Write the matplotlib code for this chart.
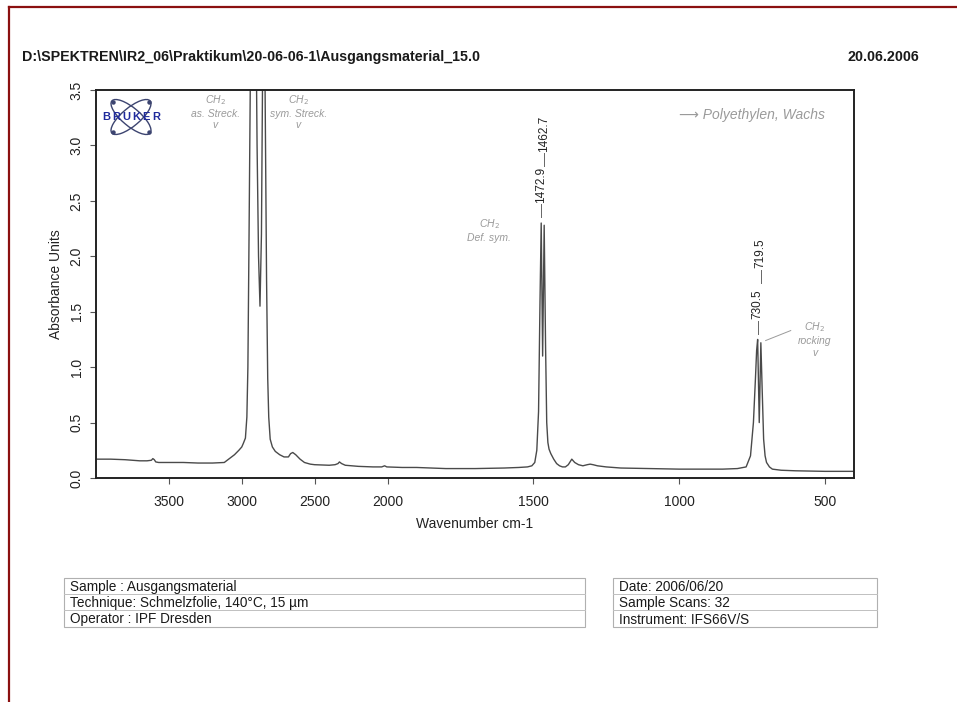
import numpy as np
import matplotlib
matplotlib.use("Agg")
import matplotlib.pyplot as plt
from matplotlib.patches import Ellipse, Rectangle
from matplotlib.lines import Line2D

plt.rcParams['font.family'] = ['Liberation Sans', 'DejaVu Sans']

# IR spectrum, read point by point (wavenumber cm-1, absorbance)
wavenumber = [4000, 3900, 3800, 3700, 3650, 3620, 3610, 3600, 3590, 3570, 3500, 3400,
              3300, 3200, 3120, 3080, 3050, 3020, 3000, 2990, 2975, 2965, 2958, 2950,
              2940, 2930, 2919, 2905, 2895, 2885, 2875, 2865, 2858, 2850, 2840, 2830,
              2822, 2815, 2805, 2790, 2770, 2740, 2710, 2680, 2665, 2650, 2630, 2600,
              2570, 2530, 2500, 2400, 2360, 2340, 2330, 2315, 2290, 2200, 2100, 2040,
              2020, 2005, 1950, 1900, 1800, 1700, 1600, 1550, 1520, 1505, 1495, 1488,
              1482, 1477, 1472.9, 1468, 1462.7, 1458, 1454, 1450, 1446, 1440, 1430, 1420,
              1410, 1400, 1390, 1380, 1368, 1358, 1345, 1330, 1315, 1305, 1295, 1280,
              1250, 1200, 1100, 1000, 900, 850, 800, 770, 755, 745, 738, 734,
              730.5, 725, 719.5, 715, 710, 705, 700, 690, 680, 650, 600, 500, 400]
absorbance = [0.17, 0.17, 0.165, 0.155, 0.155, 0.16, 0.175, 0.165, 0.145, 0.14, 0.14, 0.14,
              0.135, 0.135, 0.14, 0.18, 0.21, 0.25, 0.28, 0.31, 0.36, 0.55, 1.0, 2.2,
              3.8, 4.5, 5.0, 4.5, 3.0, 2.0, 1.55, 2.2, 3.5, 4.5, 3.5, 1.8,
              0.9, 0.55, 0.35, 0.28, 0.24, 0.21, 0.19, 0.19, 0.22, 0.23, 0.21, 0.17,
              0.14, 0.125, 0.12, 0.115, 0.12, 0.13, 0.145, 0.13, 0.115, 0.105, 0.1, 0.1,
              0.11, 0.1, 0.095, 0.095, 0.085, 0.085, 0.09, 0.095, 0.1, 0.11, 0.14, 0.25,
              0.6, 1.6, 2.30, 1.1, 2.28, 1.2, 0.5, 0.32, 0.26, 0.22, 0.17, 0.13,
              0.11, 0.1, 0.1, 0.12, 0.17, 0.14, 0.12, 0.11, 0.12, 0.125, 0.12, 0.11,
              0.1, 0.09, 0.085, 0.08, 0.08, 0.08, 0.085, 0.1, 0.2, 0.5, 0.9, 1.15,
              1.25, 0.5, 1.22, 0.8, 0.35, 0.2, 0.14, 0.1, 0.08, 0.07, 0.065, 0.06, 0.06]

# labelled peaks, grouped in pairs (lower label first)
peak_groups = [[1472.9, 1462.7], [730.5, 719.5]]
peak_heights = [2.30, 1.25]

header_left = r"D:\SPEKTREN\IR2_06\Praktikum\20-06-06-1\Ausgangsmaterial_15.0"
header_right = "20.06.2006"
info_left = ["Sample : Ausgangsmaterial", "Technique: Schmelzfolie, 140°C, 15 µm",
             "Operator : IPF Dresden"]
info_right = ["Date: 2006/06/20", "Sample Scans: 32", "Instrument: IFS66V/S"]

W, H = 957, 702


def fx(x):
    return x / W


def fy(y):
    return 1 - y / H


# OPUS style axis: range above 2000 cm-1 compressed by factor 2
def fwd(x):
    x = np.asarray(x, dtype=float)
    return np.where(x > 2000, 2000 + (x - 2000) / 2, x)


def inv(x):
    x = np.asarray(x, dtype=float)
    return np.where(x > 2000, 2000 + (x - 2000) * 2, x)


fig = plt.figure(figsize=(W / 100, H / 100), dpi=100)
ax = fig.add_axes([fx(96), fy(478), fx(854) - fx(96), fy(90) - fy(478)])
ax.set_xscale('function', functions=(fwd, inv))
ax.plot(wavenumber, absorbance, color='#4a4a4a', lw=1.0)
ax.set_xlim(4000, 400)
ax.set_ylim(0, 3.5)
ax.set_xticks([3500, 3000, 2500, 2000, 1500, 1000, 500])
ax.set_xticklabels(['3500', '3000', '2500', '2000', '1500', '1000', '500'])
ax.set_yticks(np.arange(0, 3.51, 0.5))
ax.set_yticklabels(['%.1f' % v for v in np.arange(0, 3.51, 0.5)], rotation=90, va='center')
ax.tick_params(direction='out', length=4, width=0.8, color='#555555', labelsize=10,
               labelcolor='#222222')
ax.tick_params(axis='y', pad=5)
ax.tick_params(axis='x', pad=8)
for s in ax.spines.values():
    s.set_linewidth(1.4)
    s.set_color('#222222')
ax.set_xlabel("Wavenumber cm-1", fontsize=10, color='#222222', labelpad=6)
ax.set_ylabel("Absorbance Units", fontsize=10, color='#222222', labelpad=5)

# peak labels stacked above each doublet
for group, top in zip(peak_groups, peak_heights):
    base = top + 0.05
    for wn in group:
        ax.plot([wn, wn], [base, base + 0.12], color='#666666', lw=0.7)
        ax.text(wn, base + 0.13, "%.1f" % wn, rotation=90, ha='center', va='bottom',
                fontsize=8.5, color='#222222')
        base = base + 0.13 + 0.33

# handwritten notes
hand = dict(color='#9a9a9a', fontsize=7.5, style='italic', ha='center', va='top')
ax.text(3183, 3.47, "CH$_2$\nas. Streck.\nv", **hand)
ax.text(2613, 3.47, "CH$_2$\nsym. Streck.\nv", **hand)
ax.text(1652, 2.35, "CH$_2$\nDef. sym.", **hand)
ax.text(535, 1.42, "CH$_2$\nrocking\nv", **hand)
ax.text(1000, 3.27, "⟶ Polyethylen, Wachs", color='#9a9a9a', fontsize=10, style='italic',
        ha='left', va='center')
ax.plot([703, 617], [1.24, 1.33], color='#9a9a9a', lw=0.7)

# Bruker logo
lg = fig.add_axes([fx(98), fy(140), fx(66), fy(0) - fy(46)])
lg.set_xlim(-33, 33)
lg.set_ylim(-23, 23)
lg.set_aspect('equal')
lg.axis('off')
for ang in (40, -40):
    lg.add_patch(Ellipse((0, 0), 50, 18, angle=ang, fill=False, edgecolor='#3c4470', lw=1.0))
for px_, py_ in [(-18, 15), (18, 15), (-18, -15), (18, -15)]:
    lg.plot(px_, py_, 'o', ms=2.2, color='#3c4470')
for i, ch in enumerate("BRUKER"):
    lg.text(-25 + i * 10, 0, ch, ha='center', va='center', fontsize=8, fontweight='bold',
            color='#1f2a9c')

# header
fig.text(fx(22), fy(57), header_left, fontsize=10.3, fontweight='bold', va='center',
         color='#1a1a1a')
fig.text(fx(919), fy(57), header_right, fontsize=10.3, fontweight='bold', va='center',
         ha='right', color='#1a1a1a')

# info boxes
row_y = [578, 594, 610, 627]
for x0, x1, rows in [(64, 585, info_left), (613, 877, info_right)]:
    fig.add_artist(Rectangle((fx(x0), fy(row_y[-1])), fx(x1) - fx(x0),
                             fy(row_y[0]) - fy(row_y[-1]), transform=fig.transFigure,
                             fill=False, edgecolor='#b0b0b0', lw=0.8))
    for yy in row_y[1:-1]:
        fig.add_artist(Line2D([fx(x0), fx(x1)], [fy(yy), fy(yy)], transform=fig.transFigure,
                              color='#c0c0c0', lw=0.7))
    for i, txt in enumerate(rows):
        fig.text(fx(x0 + 6), fy((row_y[i] + row_y[i + 1]) / 2 + 1), txt, fontsize=9.8,
                 va='center', color='#1a1a1a')

# page border
fig.add_artist(Line2D([fx(9), 1], [fy(7), fy(7)], transform=fig.transFigure,
                      color='#8b1010', lw=1.6))
fig.add_artist(Line2D([fx(9), fx(9)], [fy(7), 0], transform=fig.transFigure,
                      color='#8b1010', lw=1.6))

fig.savefig("out.png", dpi=100)
